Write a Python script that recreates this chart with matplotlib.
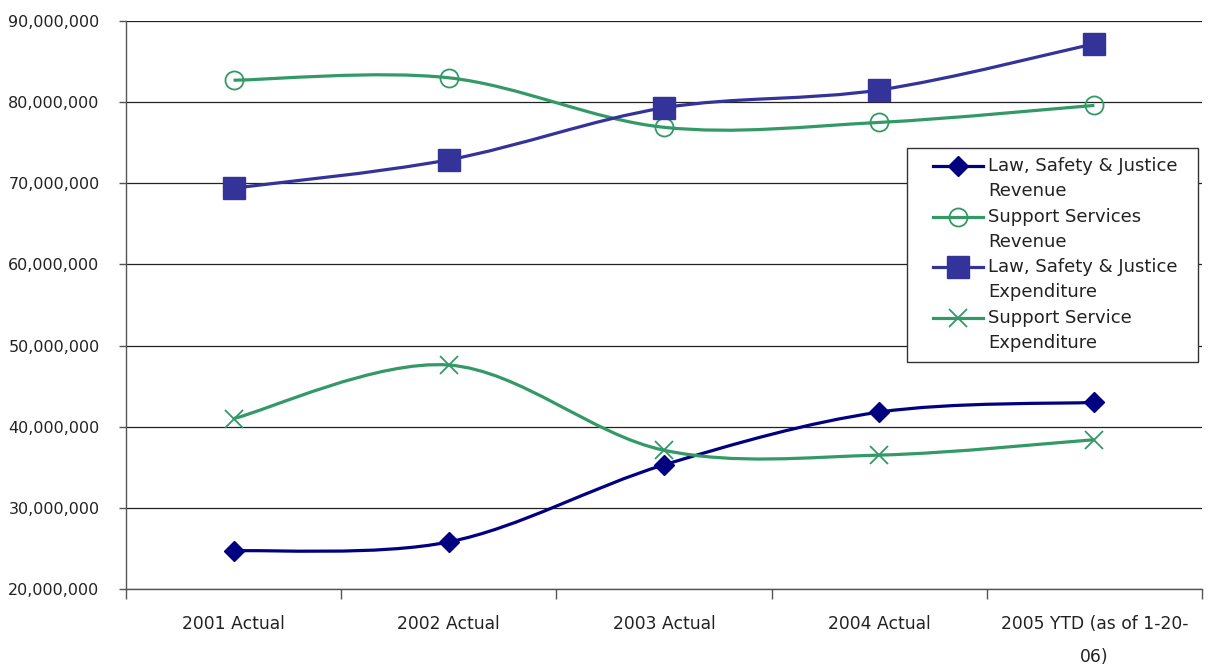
import matplotlib.pyplot as plt
from matplotlib.path import Path
from matplotlib.patches import PathPatch, Rectangle
from matplotlib.lines import Line2D
from matplotlib.legend_handler import HandlerLine2D
from matplotlib.ticker import FuncFormatter, FixedLocator

categories = ["2001 Actual", "2002 Actual", "2003 Actual", "2004 Actual",
              "2005 YTD (as of 1-20-\n06)"]

lsj_revenue = [24.7e6, 25.8e6, 35.3e6, 41.8e6, 43.0e6]
support_revenue = [82.7e6, 83.0e6, 76.9e6, 77.5e6, 79.6e6]
lsj_expenditure = [69.4e6, 72.9e6, 79.3e6, 81.5e6, 87.2e6]
support_expenditure = [41.0e6, 47.6e6, 37.1e6, 36.5e6, 38.4e6]


def smooth_path(xs, ys):
    # catmull-rom style bezier like excel's smoothed line
    pts = list(zip(xs, ys))
    verts = [pts[0]]
    codes = [Path.MOVETO]
    n = len(pts)
    for i in range(n - 1):
        p0 = pts[i - 1] if i > 0 else pts[i]
        p1 = pts[i]
        p2 = pts[i + 1]
        p3 = pts[i + 2] if i + 2 < n else pts[i + 1]
        c1 = (p1[0] + (p2[0] - p0[0]) / 6, p1[1] + (p2[1] - p0[1]) / 6)
        c2 = (p2[0] - (p3[0] - p1[0]) / 6, p2[1] - (p3[1] - p1[1]) / 6)
        verts += [c1, c2, p2]
        codes += [Path.CURVE4] * 3
    return Path(verts, codes)


class FirstLineHandler(HandlerLine2D):
    # put the legend sample next to the first line of a two-line label
    def create_artists(self, legend, orig_handle, xdescent, ydescent,
                       width, height, fontsize, trans):
        return super().create_artists(legend, orig_handle, xdescent,
                                      ydescent - 19, width, height,
                                      fontsize, trans)


W, H = 1211, 669
fig = plt.figure(figsize=(W / 100, H / 100), dpi=100)
ax = fig.add_axes([126 / W, 1 - 589 / H, 1076 / W, 568 / H])

x = list(range(len(categories)))
series = [
    ("Law, Safety & Justice\nRevenue", lsj_revenue, "#000080",
     dict(marker="D", ms=10, mfc="#000080", mec="#000080")),
    ("Support Services\nRevenue", support_revenue, "#339966",
     dict(marker="o", ms=13, mfc="none", mec="#339966", mew=1.3)),
    ("Law, Safety & Justice\nExpenditure", lsj_expenditure, "#333399",
     dict(marker="s", ms=16, mfc="#333399", mec="#333399")),
    ("Support Service\nExpenditure", support_expenditure, "#339966",
     dict(marker="x", ms=13, mec="#339966", mew=1.3)),
]

handles = []
for label, vals, color, mk in series:
    ax.add_patch(PathPatch(smooth_path(x, vals), facecolor="none",
                           edgecolor=color, lw=2.3, zorder=3))
    ax.plot(x, vals, linestyle="none", zorder=4, **mk)
    handles.append(Line2D([], [], color=color, lw=2.3, label=label, **mk))

ax.set_xlim(-0.5, 4.5)
ax.set_ylim(20e6, 90e6)
ax.yaxis.set_major_locator(FixedLocator([i * 10e6 for i in range(2, 10)]))
ax.yaxis.set_major_formatter(FuncFormatter(lambda v, p: f"{v:,.0f}"))
ax.set_xticks(x)
ax.set_xticklabels(categories, linespacing=2.05)
ax.xaxis.set_minor_locator(FixedLocator([i - 0.5 for i in range(6)]))

ax.tick_params(axis="x", which="major", length=0, pad=19, labelsize=12.3,
               labelcolor="#222222")
ax.tick_params(axis="x", which="minor", length=7, width=1, color="#555555",
               direction="out")
ax.tick_params(axis="y", length=5, width=1, color="#555555", pad=14,
               labelsize=11.5, labelcolor="#222222")

ax.grid(axis="y", color="#222222", lw=0.9)
ax.set_axisbelow(True)
for side in ("top", "right"):
    ax.spines[side].set_visible(False)
for side in ("left", "bottom"):
    ax.spines[side].set_color("#555555")
    ax.spines[side].set_linewidth(1)

# legend box drawn separately so the padding matches the original
fig.patches.append(Rectangle((907 / W, 1 - 362 / H), 291 / W, 214 / H,
                             transform=fig.transFigure, facecolor="white",
                             edgecolor="#333333", lw=1, zorder=4))
leg = fig.legend(handles=handles, loc="upper left",
                 bbox_to_anchor=(933 / W, 1 - 157 / H),
                 fontsize=13, frameon=False,
                 handler_map={Line2D: FirstLineHandler()},
                 handlelength=2.75, handletextpad=0.3, labelspacing=0.4,
                 borderpad=0, borderaxespad=0)
leg.set_zorder(5)
for t in leg.get_texts():
    t.set_color("#222222")
    t.set_linespacing(1.52)

fig.savefig("out.png", dpi=100)
